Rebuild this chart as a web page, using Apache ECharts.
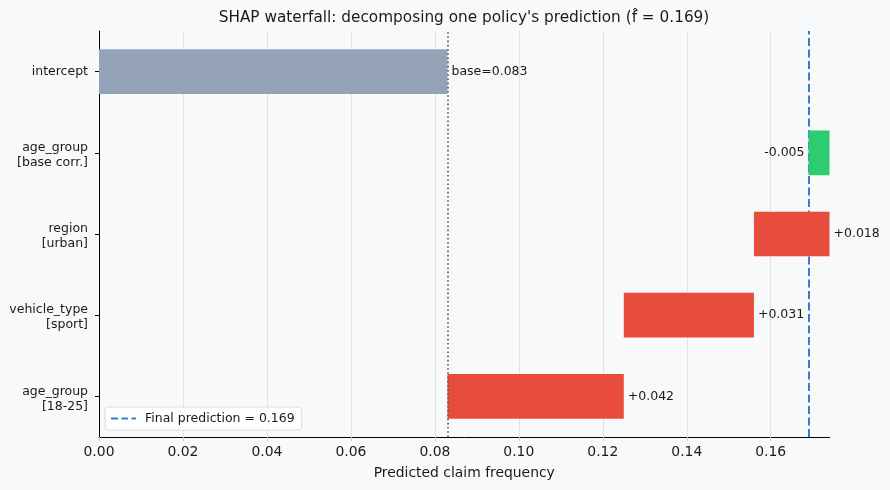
<!DOCTYPE html>
<html><head><meta charset="utf-8">
<script src="https://cdn.jsdelivr.net/npm/echarts@6/dist/echarts.min.js"></script>
<style>html,body{margin:0;padding:0;background:#f8f9fb}#c{width:890px;height:490px}</style>
</head><body><div id="c"></div>
<script>
// ---- data ----
const baseValue = 0.083;
const featureLabels = ['age_group\n[18-25]', 'vehicle_type\n[sport]', 'region\n[urban]', 'age_group\n[base corr.]'];
const shapValues = [0.042, 0.031, 0.018, -0.005];
const xTickValues = [0, 0.02, 0.04, 0.06, 0.08, 0.10, 0.12, 0.14, 0.16];

// ---- derived ----
const categories = featureLabels.concat(['intercept']);
const starts = [], widths = [], labels = [], colors = [], positions = [];
let cum = baseValue, maxCum = baseValue;
shapValues.forEach(v => {
  const next = cum + v;
  starts.push(Math.min(cum, next));
  widths.push(Math.abs(v));
  labels.push((v >= 0 ? '+' : '-') + Math.abs(v).toFixed(3));
  colors.push(v >= 0 ? '#e74c3c' : '#2ecc71');
  positions.push(v >= 0 ? 'right' : 'left');
  cum = next;
  maxCum = Math.max(maxCum, cum);
});
starts.push(0); widths.push(baseValue); labels.push('base=' + baseValue.toFixed(3));
colors.push('#94a3b8'); positions.push('right');
const finalPrediction = cum;
const finalName = 'Final prediction = ' + finalPrediction.toFixed(3);

const FONT = 'DejaVu Sans';
const chart = echarts.init(document.getElementById('c'), null, {renderer: 'canvas'});
chart.setOption({
  backgroundColor: '#f8f9fb',
  animation: false,
  textStyle: {fontFamily: FONT},
  title: {
    text: "SHAP waterfall: decomposing one policy's prediction (f\u0302 = " + finalPrediction.toFixed(3) + ")",
    left: 464, top: 11, padding: 0, textAlign: 'center',
    textStyle: {fontFamily: FONT, fontSize: 15.3, fontWeight: 'normal', color: '#1a1a1a'}
  },
  grid: {left: 99, right: 60.5, top: 31, bottom: 53, containLabel: false},
  legend: {
    data: [{name: finalName, icon: 'path://M0,0H7V2H0Z M10.5,0H17V2H10.5Z M20.5,0H25V2H20.5Z'}],
    left: 105, top: 407,
    padding: [5, 7, 5, 6],
    itemWidth: 25, itemHeight: 2, itemGap: 8,
    backgroundColor: 'rgba(255,255,255,0.85)',
    borderColor: '#dcdcdc', borderWidth: 1, borderRadius: 3,
    textStyle: {fontFamily: FONT, fontSize: 12.5, color: '#1a1a1a', padding: [0, 0, 0, 4]}
  },
  xAxis: {
    type: 'value', min: 0, max: maxCum,
    name: 'Predicted claim frequency', nameLocation: 'middle', nameGap: 29,
    nameTextStyle: {fontFamily: FONT, fontSize: 13.9, color: '#1a1a1a'},
    axisLine: {show: true, lineStyle: {color: '#000', width: 1}},
    axisTick: {show: true, length: 4, customValues: xTickValues, lineStyle: {color: '#cccccc'}},
    axisLabel: {customValues: xTickValues, fontFamily: FONT, fontSize: 13.9, color: '#1a1a1a', margin: 8,
      formatter: v => v.toFixed(2)},
    splitLine: {show: false}
  },
  yAxis: {
    type: 'category', data: categories,
    axisLine: {show: true, lineStyle: {color: '#000', width: 1}},
    axisTick: {show: true, alignWithLabel: true, length: 4, lineStyle: {color: '#000'}},
    axisLabel: {
      fontFamily: FONT, fontSize: 12.5, color: '#1a1a1a', margin: 11, align: 'right',
      formatter: v => {
        const parts = v.split('\n');
        if (parts.length === 1) return '{s|' + v + '}';
        return '{t|' + parts[0] + '}\n{b|' + parts[1] + '}';
      },
      rich: {
        s: {fontFamily: FONT, fontSize: 12.5, color: '#1a1a1a', lineHeight: 15, align: 'right'},
        t: {fontFamily: FONT, fontSize: 12.5, color: '#1a1a1a', lineHeight: 20, align: 'right'},
        b: {fontFamily: FONT, fontSize: 12.5, color: '#1a1a1a', lineHeight: 10, align: 'right'}
      }
    },
    splitLine: {show: false}
  },
  series: [
    {
      name: 'grid', type: 'line', data: [], silent: true, z: 0,
      markLine: {
        z: 0, silent: true, symbol: 'none', label: {show: false}, precision: 6,
        lineStyle: {color: '#e2e2e2', width: 1, type: 'solid'},
        data: xTickValues.slice(1).map(v => ({xAxis: v}))
      }
    },
    {
      name: finalName, type: 'line', data: [], symbol: 'none', silent: true, z: 1,
      lineStyle: {color: '#3a7dcd', width: 2, type: [8, 3.5]},
      itemStyle: {color: '#3a7dcd'},
      markLine: {
        z: 1, silent: true, symbol: 'none', label: {show: false}, precision: 6,
        lineStyle: {color: '#3a7dcd', width: 2, type: [8, 3.5]},
        data: [{xAxis: finalPrediction}]
      }
    },
    {
      name: 'offset', type: 'bar', stack: 'w', silent: true, z: 2,
      barWidth: '55%',
      itemStyle: {color: 'rgba(0,0,0,0)'},
      data: starts
    },
    {
      name: 'contrib', type: 'bar', stack: 'w', silent: true, z: 2,
      barWidth: '55%',
      data: widths.map((w, i) => ({
        value: w,
        itemStyle: {color: colors[i]},
        label: {show: true, position: positions[i], distance: 4, formatter: labels[i],
          fontFamily: FONT, fontSize: 12.5, color: '#1a1a1a'}
      }))
    },
    {
      name: 'base', type: 'line', data: [], silent: true, z: 3,
      markLine: {
        z: 6, silent: true, symbol: 'none', label: {show: false}, precision: 6,
        lineStyle: {color: '#555', width: 1.6, type: [1.6, 2.6]},
        data: [{xAxis: baseValue}]
      }
    }
  ]
});
</script>
</body></html>
